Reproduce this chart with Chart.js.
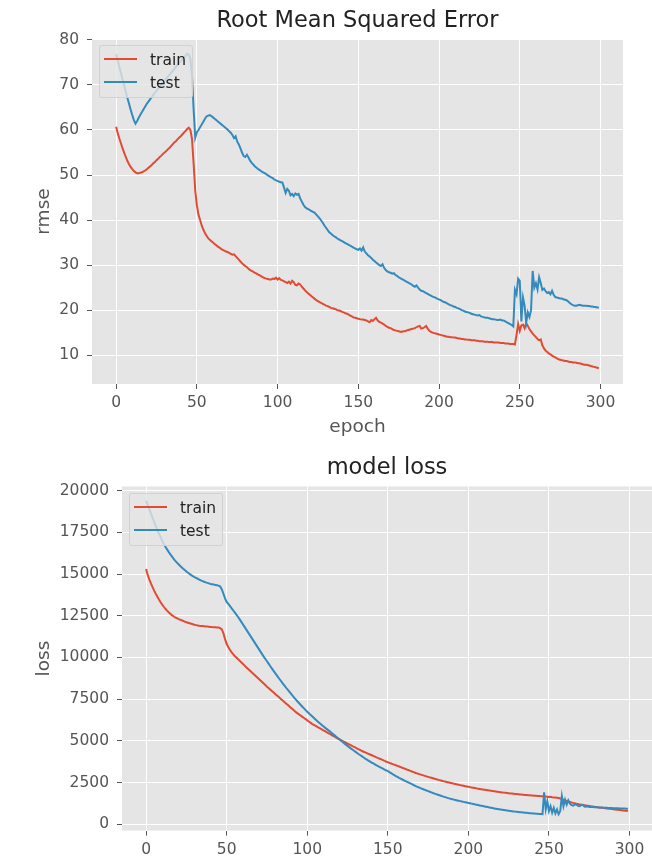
<!DOCTYPE html>
<html>
<head>
<meta charset="utf-8">
<title>Training curves</title>
<script src="https://cdn.jsdelivr.net/npm/chart.js@4.4.0/dist/chart.umd.min.js"></script>
<style>
  html, body { margin: 0; padding: 0; background: #fff; }
  #page { position: relative; width: 652px; height: 858px; overflow: hidden; }
  #page canvas { position: absolute; left: 0; }
  .legend {
    position: absolute; box-sizing: border-box; width: 94px; height: 53px;
    background: rgba(229, 229, 229, 0.8); border: 1px solid rgba(204, 204, 204, 0.8);
    border-radius: 3px; font-family: 'DejaVu Sans', sans-serif; font-size: 15.5px; color: #222;
  }
  .legend .swatch { position: absolute; left: 4px; width: 33px; height: 2px; }
  .legend .label { position: absolute; left: 50px; line-height: 20px; }
</style>
</head>
<body>
<div id="page">
  <canvas id="rmseChart" width="652" height="445" style="top:0px"></canvas>
  <canvas id="lossChart" width="652" height="413" style="top:445px"></canvas>

  <div class="legend" style="left:99px; top:45px;">
    <div class="swatch" style="top:12px; background:#E24A33"></div>
    <span class="label" style="top:4px">train</span>
    <div class="swatch" style="top:35px; background:#348ABD"></div>
    <span class="label" style="top:27px">test</span>
  </div>
  <div class="legend" style="left:129px; top:493px;">
    <div class="swatch" style="top:12px; background:#E24A33"></div>
    <span class="label" style="top:4px">train</span>
    <div class="swatch" style="top:35px; background:#348ABD"></div>
    <span class="label" style="top:27px">test</span>
  </div>
</div>

<script>
// epochs 0..299, one value per epoch for every series
const epochs = Array.from({ length: 300 }, (_, i) => i);

const epochTicks = [0, 50, 100, 150, 200, 250, 300];
const rmseTicks = [10, 20, 30, 40, 50, 60, 70, 80];
const lossTicks = [0, 2500, 5000, 7500, 10000, 12500, 15000, 17500, 20000];

const rmseTrain = [
  60.7, 59.3, 58.1, 57.0, 55.9, 54.9, 54.0, 53.1, 52.4, 51.8,
  51.3, 50.9, 50.6, 50.4, 50.4, 50.5, 50.6, 50.8, 51.0, 51.3,
  51.6, 51.9, 52.2, 52.6, 52.9, 53.3, 53.6, 54.0, 54.3, 54.7,
  55.0, 55.3, 55.7, 56.0, 56.4, 56.8, 57.2, 57.5, 57.9, 58.3,
  58.6, 59.0, 59.4, 59.8, 60.2, 60.5, 60.0, 58.0, 52.5, 46.5,
  43.3, 41.2, 40.0, 38.8, 37.9, 37.1, 36.5, 36.0, 35.6, 35.3,
  35.0, 34.7, 34.4, 34.1, 33.9, 33.6, 33.4, 33.2, 33.0, 32.9,
  32.7, 32.5, 32.3, 32.4, 32.0, 31.6, 31.2, 30.8, 30.4, 30.1,
  29.8, 29.5, 29.2, 28.9, 28.7, 28.5, 28.3, 28.1, 27.9, 27.7,
  27.5, 27.3, 27.1, 27.0, 26.9, 26.8, 26.8, 27.0, 26.9, 27.2,
  26.8, 27.1, 26.7, 26.6, 26.4, 26.2, 26.0, 26.3, 25.9, 26.5,
  26.2, 25.6, 25.5, 25.9, 25.7, 25.2, 24.8, 24.4, 24.0, 23.7,
  23.4, 23.1, 22.8, 22.5, 22.2, 22.0, 21.8, 21.6, 21.4, 21.2,
  21.0, 20.9, 20.7, 20.5, 20.4, 20.3, 20.2, 20.0, 19.9, 19.8,
  19.6, 19.5, 19.3, 19.2, 19.0, 18.8, 18.6, 18.4, 18.3, 18.2,
  18.1, 18.0, 17.9, 17.9, 17.8, 17.7, 17.5, 17.3, 17.8, 17.6,
  18.0, 18.3, 17.7, 17.4, 17.2, 17.0, 16.8, 16.5, 16.3, 16.1,
  16.0, 15.8, 15.6, 15.5, 15.4, 15.3, 15.2, 15.2, 15.3, 15.3,
  15.5, 15.6, 15.7, 15.8, 15.9, 16.0, 16.2, 16.4, 16.5, 15.9,
  16.0, 16.2, 16.5, 15.9, 15.4, 15.2, 15.0, 14.9, 14.8, 14.7,
  14.6, 14.5, 14.4, 14.3, 14.2, 14.1, 14.1, 14.0, 14.0, 13.9,
  13.9, 13.8, 13.7, 13.7, 13.6, 13.6, 13.5, 13.5, 13.4, 13.4,
  13.3, 13.3, 13.3, 13.2, 13.2, 13.1, 13.1, 13.1, 13.0, 13.0,
  13.0, 12.9, 12.9, 12.9, 12.8, 12.8, 12.8, 12.8, 12.7, 12.7,
  12.7, 12.6, 12.6, 12.6, 12.5, 12.5, 12.5, 12.4, 14.5, 16.9,
  15.4, 16.6, 16.8, 16.0, 17.1, 16.5, 15.8, 15.3, 14.8, 14.4,
  14.0, 13.6, 13.3, 13.5, 12.2, 11.5, 11.0, 10.7, 10.4, 10.2,
  9.9, 9.7, 9.5, 9.3, 9.1, 9.0, 8.9, 8.8, 8.7, 8.7,
  8.6, 8.5, 8.5, 8.4, 8.4, 8.3, 8.2, 8.2, 8.1, 8.0,
  7.9, 7.9, 7.8, 7.7, 7.6, 7.5, 7.4, 7.3, 7.2, 7.1
];

const rmseTest = [
  76.8, 75.4, 74.0, 72.6, 71.2, 69.8, 68.4, 67.1, 65.8, 64.5,
  63.3, 62.2, 61.4, 62.0, 62.7, 63.4, 64.0, 64.6, 65.2, 65.8,
  66.3, 66.8, 67.3, 67.8, 68.3, 68.7, 69.2, 69.6, 70.1, 70.5,
  70.9, 71.4, 71.8, 72.2, 72.7, 73.1, 73.5, 74.0, 74.4, 74.9,
  75.3, 75.7, 76.1, 76.5, 76.9, 76.7, 75.8, 72.0, 64.5, 58.3,
  59.5, 60.0, 60.6, 61.2, 61.8, 62.5, 63.0, 63.2, 63.3, 63.1,
  62.8, 62.5, 62.2, 61.9, 61.6, 61.3, 61.0, 60.7, 60.4, 60.1,
  59.7, 59.4, 58.9, 58.2, 58.6, 57.4, 56.8, 55.9, 55.0, 54.2,
  54.0, 54.5, 53.9, 53.2, 52.7, 52.3, 51.9, 51.6, 51.3, 51.1,
  50.8, 50.6, 50.4, 50.2, 49.9, 49.7, 49.5, 49.3, 49.0, 48.8,
  48.7, 48.5, 48.4, 48.3, 47.2, 46.0, 46.9, 46.5, 45.5, 45.8,
  45.3, 45.9, 45.6, 45.8, 44.8, 44.1, 43.4, 42.9, 42.6, 42.4,
  42.2, 42.0, 41.8, 41.6, 41.2, 40.8, 40.4, 39.9, 39.4, 38.8,
  38.3, 37.8, 37.3, 37.0, 36.7, 36.4, 36.2, 35.9, 35.7, 35.5,
  35.3, 35.1, 34.9, 34.7, 34.5, 34.3, 34.1, 33.9, 33.7, 33.5,
  33.4, 33.7, 33.2, 33.9, 33.0, 32.6, 32.2, 31.9, 31.6, 31.2,
  30.9, 30.6, 30.3, 30.0, 29.8, 30.2, 29.4, 28.9, 28.6, 28.4,
  28.3, 28.1, 28.2, 27.8, 27.6, 27.3, 27.1, 26.9, 26.7, 26.5,
  26.3, 26.1, 25.9, 25.7, 25.4, 25.2, 25.5, 25.0, 24.6, 24.3,
  24.2, 24.0, 23.8, 23.6, 23.4, 23.2, 23.0, 22.9, 22.7, 22.5,
  22.4, 22.2, 22.0, 21.8, 21.7, 21.5, 21.3, 21.1, 21.0, 20.8,
  20.7, 20.5, 20.4, 20.2, 20.0, 19.9, 19.7, 19.6, 19.5, 19.4,
  19.2, 19.1, 19.0, 18.9, 18.8, 18.9, 18.6, 18.5, 18.4, 18.3,
  18.3, 18.2, 18.1, 18.0, 18.0, 17.9, 17.8, 17.8, 17.9, 17.7,
  17.7, 17.5, 17.3, 17.1, 16.9, 16.7, 16.4, 24.5, 23.5, 27.0,
  26.5, 17.5, 22.8, 21.0, 17.2, 19.5, 18.5, 20.0, 28.7, 25.0,
  26.0, 24.6, 27.3, 26.0, 24.5, 24.8, 24.2, 23.8, 24.0, 23.5,
  24.3, 23.4, 22.9, 22.8, 22.7, 22.6, 22.6, 22.4, 22.3, 22.2,
  21.9, 21.6, 21.3, 21.1, 21.0, 21.0, 21.1, 21.2, 21.1, 21.0,
  21.0, 21.0, 20.9, 20.9, 20.8, 20.8, 20.7, 20.7, 20.6, 20.6
];

const lossTrain = [
  15300, 14950, 14680, 14440, 14220, 14010, 13820, 13640, 13470, 13310,
  13170, 13040, 12920, 12810, 12710, 12620, 12540, 12470, 12410, 12360,
  12310, 12270, 12230, 12190, 12150, 12110, 12080, 12050, 12020, 11990,
  11960, 11940, 11920, 11900, 11890, 11880, 11870, 11860, 11850, 11840,
  11830, 11820, 11815, 11810, 11800, 11790, 11760, 11680, 11450, 11100,
  10820, 10620, 10460, 10320, 10200, 10090, 10000, 9905, 9810, 9715,
  9620, 9525, 9430, 9340, 9250, 9160, 9070, 8980, 8890, 8800,
  8710, 8620, 8530, 8440, 8345, 8250, 8165, 8080, 7995, 7910,
  7825, 7740, 7655, 7570, 7485, 7400, 7315, 7230, 7145, 7060,
  6975, 6890, 6805, 6720, 6650, 6580, 6510, 6440, 6370, 6300,
  6230, 6160, 6090, 6020, 5965, 5910, 5855, 5800, 5745, 5690,
  5635, 5580, 5525, 5470, 5415, 5360, 5305, 5250, 5195, 5140,
  5090, 5040, 4990, 4940, 4890, 4840, 4790, 4740, 4690, 4640,
  4590, 4540, 4490, 4440, 4390, 4348, 4306, 4264, 4222, 4180,
  4138, 4096, 4054, 4012, 3970, 3928, 3886, 3844, 3802, 3760,
  3720, 3683, 3646, 3609, 3572, 3535, 3498, 3461, 3424, 3387,
  3350, 3313, 3276, 3239, 3202, 3165, 3128, 3091, 3054, 3022,
  2991, 2960, 2930, 2900, 2870, 2841, 2812, 2784, 2756, 2728,
  2701, 2674, 2648, 2622, 2597, 2572, 2548, 2524, 2500, 2477,
  2454, 2432, 2410, 2388, 2367, 2346, 2325, 2305, 2285, 2265,
  2245, 2226, 2207, 2188, 2170, 2152, 2134, 2117, 2100, 2083,
  2067, 2051, 2035, 2020, 2005, 1990, 1976, 1962, 1948, 1935,
  1922, 1909, 1897, 1885, 1873, 1861, 1850, 1839, 1828, 1818,
  1808, 1798, 1788, 1779, 1770, 1761, 1752, 1744, 1736, 1728,
  1720, 1712, 1705, 1698, 1691, 1684, 1677, 1670, 1660, 1650,
  1640, 1645, 1620, 1610, 1600, 1590, 1570, 1540, 1510, 1470,
  1430, 1400, 1370, 1340, 1310, 1280, 1255, 1230, 1210, 1190,
  1170, 1150, 1135, 1120, 1105, 1090, 1076, 1062, 1048, 1034,
  1020, 1008, 996, 984, 972, 960, 948, 936, 924, 912,
  900, 888, 876, 864, 852, 840, 828, 816, 804, 792
];

const lossTest = [
  19400, 19150, 18900, 18640, 18380, 18120, 17870, 17640, 17420, 17210,
  17000, 16810, 16640, 16480, 16330, 16190, 16060, 15930, 15810, 15700,
  15600, 15500, 15410, 15320, 15240, 15160, 15080, 15010, 14940, 14880,
  14820, 14770, 14720, 14670, 14620, 14580, 14540, 14500, 14470, 14440,
  14410, 14390, 14370, 14350, 14330, 14310, 14250, 14080, 13820, 13540,
  13330, 13210, 13090, 12960, 12830, 12700, 12570, 12440, 12300, 12150,
  12000, 11850, 11700, 11550, 11400, 11250, 11100, 10950, 10800, 10650,
  10500, 10350, 10200, 10050, 9910, 9770, 9630, 9490, 9350, 9215,
  9080, 8945, 8810, 8680, 8550, 8420, 8295, 8170, 8050, 7930,
  7810, 7695, 7580, 7470, 7360, 7255, 7150, 7045, 6945, 6845,
  6750, 6655, 6560, 6470, 6380, 6290, 6205, 6120, 6035, 5955,
  5875, 5795, 5720, 5645, 5570, 5490, 5410, 5330, 5250, 5170,
  5090, 5010, 4930, 4850, 4775, 4700, 4625, 4550, 4480, 4410,
  4340, 4270, 4200, 4135, 4070, 4005, 3940, 3880, 3820, 3760,
  3700, 3645, 3590, 3535, 3480, 3430, 3380, 3330, 3280, 3230,
  3180, 3120, 3060, 3000, 2945, 2890, 2835, 2780, 2730, 2683,
  2636, 2589, 2542, 2495, 2448, 2401, 2354, 2307, 2260, 2220,
  2180, 2140, 2100, 2062, 2024, 1986, 1948, 1910, 1872, 1838,
  1804, 1770, 1738, 1706, 1674, 1644, 1614, 1584, 1554, 1524,
  1500, 1476, 1452, 1430, 1408, 1386, 1364, 1342, 1321, 1300,
  1280, 1258, 1236, 1214, 1192, 1170, 1150, 1130, 1110, 1090,
  1070, 1050, 1030, 1010, 990, 970, 950, 932, 914, 896,
  880, 865, 850, 836, 822, 808, 795, 782, 770, 758,
  746, 735, 724, 714, 704, 694, 685, 676, 667, 659,
  651, 643, 635, 627, 619, 611, 603, 1920, 900, 1380,
  790, 1080, 690, 980, 650, 890, 600, 790, 1680, 1080,
  1480, 1180, 1440, 1240, 1150, 1120, 1180, 1180, 1100, 1080,
  1150, 1160, 1060, 1050, 1080, 1040, 1030, 1030, 1020, 1020,
  1015, 1010, 1005, 1000, 995, 990, 985, 980, 975, 970,
  966, 962, 958, 954, 950, 946, 942, 938, 934, 930
];

Chart.defaults.font.family = "'DejaVu Sans', sans-serif";
Chart.defaults.animation = false;

// ggplot-style grey panel behind the grid
const plotBackground = {
    id: 'plotBackground',
    beforeDraw(chart) {
        const { ctx, chartArea: a } = chart;
        ctx.save();
        ctx.fillStyle = '#E5E5E5';
        ctx.fillRect(a.left, a.top, a.right - a.left, a.bottom - a.top);
        ctx.restore();
    }
};

function toPoints(values) {
    return values.map((v, i) => ({ x: epochs[i], y: v }));
}

function fixedTicks(list) {
    return scale => { scale.ticks = list.map(v => ({ value: v })); };
}

const tickStyle = { color: '#555555', font: { size: 15.5 }, autoSkip: false, maxRotation: 0, callback: v => String(v) };
const gridStyle = { color: '#FFFFFF', lineWidth: 1, tickColor: '#555555', tickWidth: 1, tickLength: 5 };

function renderChart(canvasId, cfg) {
    const ctx = document.getElementById(canvasId)?.getContext('2d');
    if (!ctx) {
        console.error(`Could not find canvas with ID '${canvasId}'`);
        return;
    }
    new Chart(ctx, {
        type: 'line',
        data: {
            datasets: [
                { label: 'train', data: toPoints(cfg.train), borderColor: '#E24A33', borderWidth: 2, pointRadius: 0, order: 1 },
                { label: 'test', data: toPoints(cfg.test), borderColor: '#348ABD', borderWidth: 2, pointRadius: 0, order: 0 }
            ]
        },
        options: {
            responsive: false,
            layout: { padding: cfg.padding },
            plugins: {
                legend: { display: false },
                tooltip: { enabled: false },
                title: {
                    display: true,
                    text: cfg.title,
                    fullSize: false,
                    color: '#222222',
                    font: { size: 22.5, weight: 'normal' },
                    padding: cfg.titlePadding
                }
            },
            scales: {
                x: {
                    type: 'linear',
                    min: -14.95,
                    max: 313.95,
                    afterBuildTicks: fixedTicks(epochTicks),
                    afterFit: s => { s.height = cfg.xHeight; },
                    ticks: { ...tickStyle, padding: 5 },
                    grid: gridStyle,
                    border: { display: false },
                    title: {
                        display: !!cfg.xTitle,
                        text: cfg.xTitle || '',
                        color: '#555555',
                        font: { size: 18.5 },
                        padding: { top: 0, bottom: 0 }
                    }
                },
                y: {
                    type: 'linear',
                    min: cfg.yMin,
                    max: cfg.yMax,
                    afterBuildTicks: fixedTicks(cfg.yTicks),
                    afterFit: s => { s.width = cfg.yWidth; },
                    ticks: { ...tickStyle, padding: 8 },
                    grid: gridStyle,
                    border: { display: false },
                    title: {
                        display: true,
                        text: cfg.yTitle,
                        color: '#555555',
                        font: { size: 18.5 },
                        padding: { top: 33, bottom: 0 }
                    }
                }
            }
        },
        plugins: [plotBackground]
    });
}

renderChart('rmseChart', {
    title: 'Root Mean Squared Error',
    train: rmseTrain,
    test: rmseTest,
    yTicks: rmseTicks,
    yMin: 3.6,
    yMax: 80.2,
    yTitle: 'rmse',
    xTitle: 'epoch',
    yWidth: 92,
    xHeight: 54,
    padding: { left: 0, right: 29, top: 0, bottom: 7 },
    titlePadding: { top: 8, bottom: 4 }
});

renderChart('lossChart', {
    title: 'model loss',
    train: lossTrain,
    test: lossTest,
    yTicks: lossTicks,
    yMin: -380,
    yMax: 20250,
    yTitle: 'loss',
    xTitle: null,
    yWidth: 122,
    xHeight: 27.4,
    padding: { left: 0, right: 0, top: 0, bottom: 0 },
    titlePadding: { top: 10, bottom: 4.5 }
});
</script>
</body>
</html>
